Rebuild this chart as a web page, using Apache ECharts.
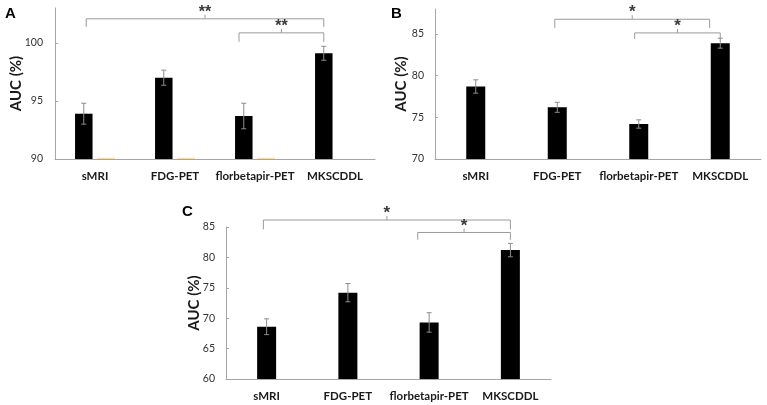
<!DOCTYPE html>
<html><head><meta charset="utf-8">
<script src="https://cdn.jsdelivr.net/npm/echarts@6/dist/echarts.min.js"></script>
<style>html,body{margin:0;padding:0;background:#fff}#c{width:767px;height:405px}</style>
</head><body><div id="c"></div>
<script>
const categories = ['sMRI', 'FDG-PET', 'florbetapir-PET', 'MKSCDDL'];

const aucA = [93.9, 97.0, 93.7, 99.1];
const errA = [0.9, 0.65, 1.1, 0.6];
const aucA2 = [90.1, 90.1, 90.1, null];
const ticksA = [90, 95, 100];

const aucB = [78.7, 76.2, 74.2, 83.9];
const errB = [0.8, 0.6, 0.5, 0.6];
const ticksB = [70, 75, 80, 85];

const aucC = [68.6, 74.2, 69.3, 81.2];
const errC = [1.3, 1.5, 1.6, 1.1];
const ticksC = [60, 65, 70, 75, 80, 85];

// brackets: [fromCategory, toCategory, level, dropTo]
const bracketsA = [[-0.11, 2.86, 102.07, 101.38], [1.8, 2.86, 100.86, 100.09]];
const starsA = ['**', '**'];
const bracketsB = [[0.97, 2.87, 86.77, 85.73], [1.95, 3.0, 85.13, 84.4]];
const starsB = ['*', '*'];
const bracketsC = [[-0.04, 3.0, 86.15, 84.6], [1.86, 3.0, 84.1, 82.9]];
const starsC = ['*', '*'];

const FONT = 'Lato,"Open Sans",Arial,sans-serif';
const STARFONT = '"Liberation Sans",Arial,sans-serif';
const AX = '#a6a6a6';

function errRender(err, offset) {
  return function (params, api) {
    const i = params.dataIndex;
    const v = api.value(1);
    const e = err[i];
    const pHi = api.coord([i, v + e]);
    const pLo = api.coord([i, v - e]);
    const cx = pHi[0] + offset;
    const cap = 2.5;
    const st = { stroke: '#8c8c8c', lineWidth: 1 };
    return { type: 'group', children: [
      { type: 'line', shape: { x1: cx, y1: pHi[1], x2: cx, y2: pLo[1] }, style: st },
      { type: 'line', shape: { x1: cx - cap, y1: pHi[1], x2: cx + cap, y2: pHi[1] }, style: st },
      { type: 'line', shape: { x1: cx - cap, y1: pLo[1], x2: cx + cap, y2: pLo[1] }, style: st }
    ]};
  };
}

function bracketRender(brs, stars, starSize) {
  return function (params, api) {
    const b = brs[params.dataIndex];
    const p0 = api.coord([0, b[2]]);
    const p1 = api.coord([1, b[2]]);
    const band = p1[0] - p0[0];
    const x1 = p0[0] + b[0] * band;
    const x2 = p0[0] + b[1] * band;
    const y = p0[1];
    const yd = api.coord([0, b[3]])[1];
    const xm = (x1 + x2) / 2;
    const st = { stroke: '#9a9a9a', lineWidth: 1, fill: null };
    return { type: 'group', children: [
      { type: 'polyline', shape: { points: [[x1, yd], [x1, y], [x2, y], [x2, yd]] }, style: st },
      { type: 'line', shape: { x1: xm, y1: y, x2: xm, y2: y - 4 }, style: st },
      { type: 'text', style: { text: stars[params.dataIndex], x: xm, y: y + 2, align: 'center', verticalAlign: 'bottom',
        fill: '#3a3a3a', font: 'bold ' + starSize + 'px ' + STARFONT } }
    ]};
  };
}

function xAxisCfg(gi) {
  return {
    type: 'category', gridIndex: gi, data: categories,
    axisLine: { lineStyle: { color: AX } },
    axisTick: { inside: true, length: 4, lineStyle: { color: AX } },
    axisLabel: { interval: 0, hideOverlap: false, fontFamily: FONT, fontWeight: 'bold', fontSize: 11.5, color: '#1a1a1a', margin: 11 }
  };
}
function yAxisCfg(gi, min, max, ticks, gap, lm) {
  return {
    type: 'value', gridIndex: gi, min: min, max: max, interval: 5,
    name: 'AUC (%)', nameLocation: 'middle', nameGap: gap, nameMoveOverlap: false,
    nameTextStyle: { fontFamily: FONT, fontWeight: 'bold', fontSize: 15, color: '#1a1a1a' },
    axisLine: { show: true, lineStyle: { color: AX } },
    axisTick: { show: true, inside: true, length: 3, lineStyle: { color: AX }, customValues: ticks },
    axisLabel: { fontFamily: FONT, fontSize: 10.5, color: '#333', margin: lm, customValues: ticks },
    splitLine: { show: false }
  };
}

const chart = echarts.init(document.getElementById('c'), null, { renderer: 'canvas' });
chart.setOption({
  animation: false,
  backgroundColor: '#fff',
  grid: [
    { left: 55, top: 8, width: 320, height: 151 },
    { left: 435, top: 9, width: 326, height: 150 },
    { left: 226, top: 227, width: 325, height: 152 }
  ],
  xAxis: [xAxisCfg(0), xAxisCfg(1), xAxisCfg(2)],
  yAxis: [
    yAxisCfg(0, 90, 103, ticksA, 31, 12),
    yAxisCfg(1, 70, 88, ticksB, 26, 11),
    yAxisCfg(2, 60, 85, ticksC, 24, 11)
  ],
  graphic: [
    { type: 'text', left: 5, top: 6, style: { text: 'A', font: 'bold 15px "Liberation Sans",Arial,sans-serif', fill: '#000' } },
    { type: 'text', left: 391, top: 6, style: { text: 'B', font: 'bold 15px "Liberation Sans",Arial,sans-serif', fill: '#000' } },
    { type: 'text', left: 182, top: 204, style: { text: 'C', font: 'bold 15px "Liberation Sans",Arial,sans-serif', fill: '#000' } }
  ],
  series: [
    { type: 'bar', xAxisIndex: 0, yAxisIndex: 0, data: aucA, barWidth: 17.5, barGap: '28%', itemStyle: { color: '#000' } },
    { type: 'bar', xAxisIndex: 0, yAxisIndex: 0, data: aucA2, barWidth: 17.5, barGap: '28%', itemStyle: { color: '#f3dca8' } },
    { type: 'bar', xAxisIndex: 1, yAxisIndex: 1, data: aucB, barWidth: 19, itemStyle: { color: '#000' } },
    { type: 'bar', xAxisIndex: 2, yAxisIndex: 2, data: aucC, barWidth: 19, itemStyle: { color: '#000' } },
    { type: 'custom', xAxisIndex: 0, yAxisIndex: 0, data: aucA.map((v, i) => [i, v]), renderItem: errRender(errA, -11.25), z: 5 },
    { type: 'custom', xAxisIndex: 1, yAxisIndex: 1, data: aucB.map((v, i) => [i, v]), renderItem: errRender(errB, 0), z: 5 },
    { type: 'custom', xAxisIndex: 2, yAxisIndex: 2, data: aucC.map((v, i) => [i, v]), renderItem: errRender(errC, 0), z: 5 },
    { type: 'custom', xAxisIndex: 0, yAxisIndex: 0, clip: false, data: bracketsA.map(b => [0, b[2]]), renderItem: bracketRender(bracketsA, starsA, 16), z: 6 },
    { type: 'custom', xAxisIndex: 1, yAxisIndex: 1, clip: false, data: bracketsB.map(b => [0, b[2]]), renderItem: bracketRender(bracketsB, starsB, 17), z: 6 },
    { type: 'custom', xAxisIndex: 2, yAxisIndex: 2, clip: false, data: bracketsC.map(b => [0, b[2]]), renderItem: bracketRender(bracketsC, starsC, 17), z: 6 }
  ]
});
</script></body></html>
